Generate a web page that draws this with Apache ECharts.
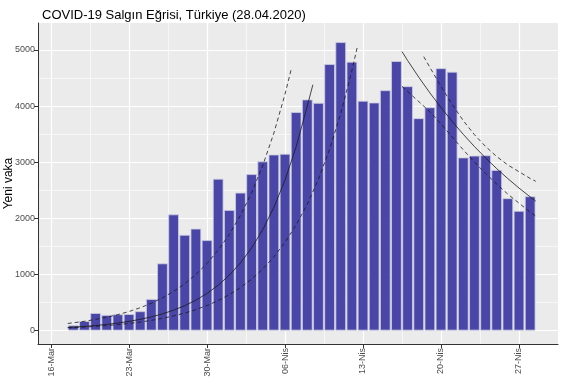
<!DOCTYPE html>
<html><head><meta charset="utf-8">
<script src="https://cdn.jsdelivr.net/npm/echarts@6/dist/echarts.min.js"></script>
<style>html,body{margin:0;padding:0;background:#fff}#c{width:570px;height:383px}</style>
</head><body><div id="c"></div>
<script>
// day index: 0 = 16-Mar
const tickDays = [0, 7, 14, 21, 28, 35, 42];
const tickLabels = ['16-Mar', '23-Mar', '30-Mar', '06-Nis', '13-Nis', '20-Nis', '27-Nis'];
const minorDays = [3.5, 10.5, 17.5, 24.5, 31.5, 38.5];
const yTicks = [0, 1000, 2000, 3000, 4000, 5000];
const yMinor = [500, 1500, 2500, 3500, 4500];
const firstBarDay = 2; // 18-Mar
const newCases = [93, 168, 311, 277, 289, 293, 343, 561, 1196, 2069, 1704, 1815, 1610, 2704,
  2148, 2456, 2786, 3013, 3135, 3148, 3892, 4117, 4056, 4747, 5138, 4789, 4093, 4062, 4281,
  4801, 4353, 3783, 3977, 4674, 4611, 3083, 3116, 3122, 2861, 2357, 2131, 2392];

const growthFit = [[1.5,54],[2,60],[3,73],[4,90],[5,109],[6,134],[7,163],[8,199],[9,243],[10,297],[11,363],[12,443],[13,541],[14,661],[15,807],[16,986],[17,1205],[18,1471],[19,1797],[20,2195],[21,2681],[22,3275],[23,4000],[23.5,4380]];
const growthUpper = [[1.5,126],[2,138],[3,165],[4,198],[5,237],[6,283],[7,339],[8,406],[9,486],[10,582],[11,697],[12,834],[13,999],[14,1195],[15,1431],[16,1713],[17,2051],[18,2455],[19,2939],[20,3519],[21,4212],[21.6,4690]];
const growthLower = [[1.5,47],[2,51],[3,62],[4,74],[5,88],[6,106],[7,126],[8,151],[9,181],[10,217],[11,260],[12,311],[13,373],[14,446],[15,534],[16,639],[17,765],[18,916],[19,1097],[20,1313],[21,1572],[22,1882],[23,2253],[24,2697],[25,3229],[26,3866],[27,4628],[27.5,5064]];
const declineFit = [[31.5,4970],[32,4813],[33,4515],[34,4235],[35,3973],[36,3727],[37,3496],[38,3279],[39,3076],[40,2885],[41,2707],[42,2539],[43,2382],[43.5,2307]];
const declineUpper = [[33.45,4880],[34,4690],[35,4350],[36,4030],[37,3740],[38,3490],[39,3280],[40,3100],[41,2950],[42,2830],[43,2710],[43.5,2660]];
const declineLower = [[31.5,4350],[32,4260],[33,4080],[34,3900],[35,3680],[36,3450],[37,3220],[38,3000],[39,2800],[40,2610],[41,2430],[42,2270],[43,2110],[43.5,2040]];

const barData = newCases.map((v, i) => [firstBarDay + i, v]);
const FONT = 'Liberation Sans';

function fitLine(data, dashed) {
  return {
    type: 'line', data: data, showSymbol: false, symbol: 'none', silent: true, z: 4,
    xAxisIndex: 0, yAxisIndex: 0,
    lineStyle: { color: '#1a1a1a', width: 0.8, type: dashed ? [4, 3] : 'solid' }
  };
}

const chart = echarts.init(document.getElementById('c'), null, { renderer: 'canvas' });
chart.setOption({
  animation: false,
  backgroundColor: '#ffffff',
  textStyle: { fontFamily: FONT },
  title: {
    text: 'COVID-19 Salgın Eğrisi, Türkiye (28.04.2020)', left: 37, top: 4,
    textStyle: { fontFamily: FONT, fontSize: 13, fontWeight: 'normal', color: '#000' }
  },
  grid: { left: 38, right: 12, top: 23, bottom: 39, show: true, backgroundColor: '#EBEBEB',
    borderWidth: 0, containLabel: false, outerBoundsMode: 'none' },
  xAxis: [{
    type: 'value', min: -1.17, max: 45.5,
    axisLine: { show: true, onZero: false, lineStyle: { color: '#333', width: 1 } },
    axisTick: { show: true, customValues: tickDays, length: 4, lineStyle: { color: '#333' } },
    axisLabel: { customValues: tickDays, rotate: 90, color: '#4d4d4d', fontSize: 9, margin: 4,
      formatter: v => tickLabels[tickDays.indexOf(v)] || '' },
    splitLine: { show: true, lineStyle: { color: '#ffffff', width: 1.2 } }
  }, {
    type: 'value', min: -1.17, max: 45.5, position: 'bottom',
    axisLine: { show: false }, axisTick: { show: false, customValues: minorDays },
    axisLabel: { show: false }, splitLine: { show: true, lineStyle: { color: '#ffffff', width: 0.6 } }
  }],
  yAxis: [{
    type: 'value', min: -240, max: 5480, position: 'left',
    name: 'Yeni vaka', nameLocation: 'middle', nameGap: 23, nameMoveOverlap: false,
    nameTextStyle: { fontFamily: FONT, fontSize: 12, color: '#000' },
    axisLine: { show: true, onZero: false, lineStyle: { color: '#333', width: 1 } },
    axisTick: { show: true, customValues: yTicks, length: 4, lineStyle: { color: '#333' } },
    axisLabel: { customValues: yTicks, color: '#4d4d4d', fontSize: 9, margin: 3, formatter: v => String(v) },
    splitLine: { show: true, lineStyle: { color: '#ffffff', width: 1.2 } }
  }, {
    type: 'value', min: -240, max: 5480, position: 'left',
    axisLine: { show: false, onZero: false }, axisTick: { show: false, customValues: yMinor },
    axisLabel: { show: false }, splitLine: { show: true, lineStyle: { color: '#ffffff', width: 0.6 } }
  }],
  series: [
    { type: 'bar', data: barData, barWidth: 10.6, z: 2, xAxisIndex: 0, yAxisIndex: 0,
      itemStyle: { color: '#4a46a8', borderColor: '#cdcde0', borderWidth: 0.8 } },
    fitLine(growthFit, false), fitLine(growthUpper, true), fitLine(growthLower, true),
    fitLine(declineFit, false), fitLine(declineUpper, true), fitLine(declineLower, true)
  ]
});
</script>
</body></html>
